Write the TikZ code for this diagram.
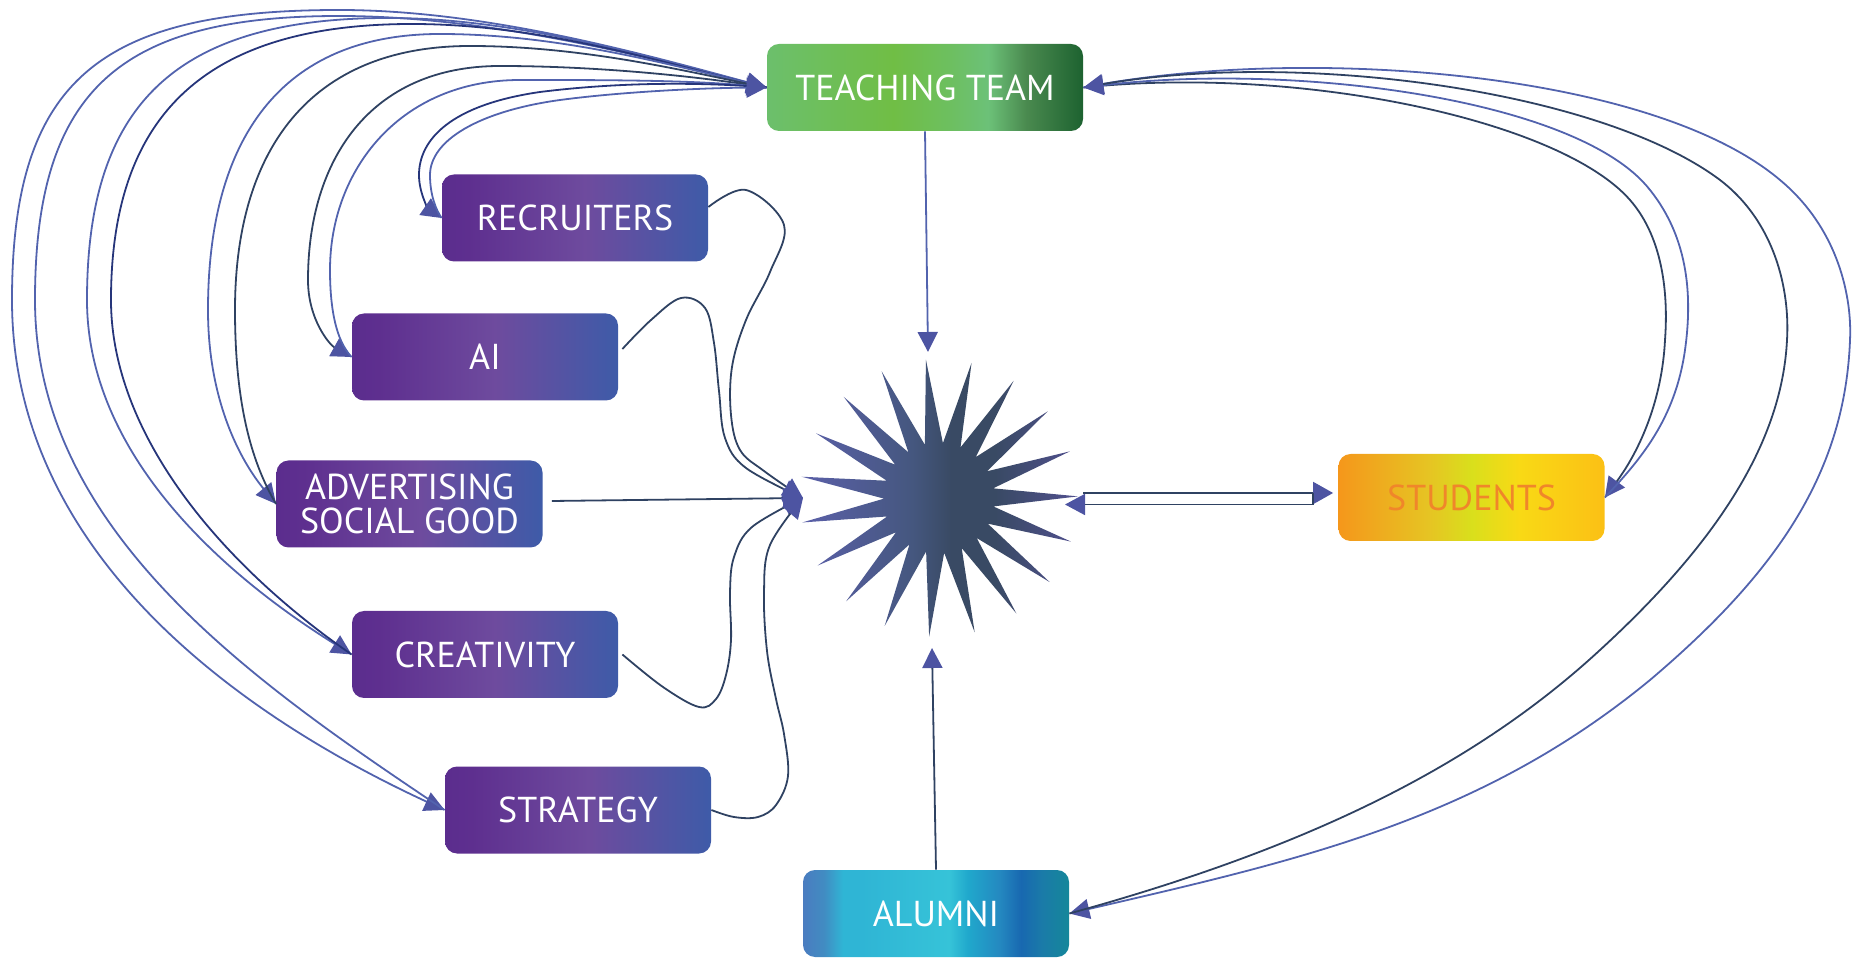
\documentclass[tikz,border=0pt]{standalone}
\usepackage{fontspec}
\setmainfont{PT Sans}
\usetikzlibrary{arrows.meta}
\definecolor{tt1}{HTML}{6CBF6C}
\definecolor{tt2}{HTML}{70BE45}
\definecolor{tt3}{HTML}{6DBF60}
\definecolor{tt4}{HTML}{6CC178}
\definecolor{tt5}{HTML}{4A8A4F}
\definecolor{tt6}{HTML}{1D6230}
\definecolor{pp1}{HTML}{5B2D8E}
\definecolor{pp2}{HTML}{5E2F8F}
\definecolor{pp3}{HTML}{6E4B9E}
\definecolor{pp4}{HTML}{3E5BA8}
\definecolor{st1}{HTML}{F5971B}
\definecolor{st2}{HTML}{E6C423}
\definecolor{st3}{HTML}{D9DF1C}
\definecolor{st4}{HTML}{F9D915}
\definecolor{st5}{HTML}{FBC015}
\definecolor{al1}{HTML}{4A7CC0}
\definecolor{al2}{HTML}{418CC2}
\definecolor{al3}{HTML}{2FB5D5}
\definecolor{al4}{HTML}{36C3D8}
\definecolor{al5}{HTML}{20A8CC}
\definecolor{al6}{HTML}{2488C0}
\definecolor{al7}{HTML}{1868B0}
\definecolor{al8}{HTML}{1A7BA8}
\definecolor{al9}{HTML}{15879A}
\definecolor{sr1}{HTML}{5B60A9}
\definecolor{sr2}{HTML}{45577F}
\definecolor{sr3}{HTML}{394A64}
\definecolor{sr4}{HTML}{51508F}
\definecolor{cdark}{HTML}{2F4262}
\definecolor{cblue}{HTML}{5263AE}
\definecolor{cnavy}{HTML}{26357A}
\definecolor{ctip}{HTML}{4D54A2}
\definecolor{stutext}{HTML}{F0862A}
\pgfdeclarehorizontalshading{ttsh}{100bp}{color(0bp)=(tt1); color(25bp)=(tt1); color(45bp)=(tt2); color(54bp)=(tt3); color(60bp)=(tt4); color(66bp)=(tt5); color(75bp)=(tt6); color(100bp)=(tt6)}
\pgfdeclarehorizontalshading{purpsh}{100bp}{color(0bp)=(pp1); color(25bp)=(pp1); color(30bp)=(pp2); color(52bp)=(pp3); color(75bp)=(pp4); color(100bp)=(pp4)}
\pgfdeclarehorizontalshading{stush}{100bp}{color(0bp)=(st1); color(25bp)=(st1); color(42bp)=(st2); color(50bp)=(st3); color(59bp)=(st4); color(75bp)=(st5); color(100bp)=(st5)}
\pgfdeclarehorizontalshading{alush}{100bp}{color(0bp)=(al1); color(25bp)=(al1); color(29bp)=(al2); color(32.5bp)=(al3); color(36bp)=(al3); color(52.5bp)=(al4); color(56bp)=(al5); color(62bp)=(al6); color(66bp)=(al7); color(70bp)=(al8); color(75bp)=(al9); color(100bp)=(al9)}
\pgfdeclarehorizontalshading{starsh}{100bp}{color(0bp)=(sr1); color(25bp)=(sr1); color(45bp)=(sr2); color(52bp)=(sr3); color(60bp)=(sr3); color(75bp)=(sr4); color(100bp)=(sr4)}
\tikzset{
  box/.style={rounded corners=6pt, minimum width=133pt, minimum height=43.5pt, inner sep=0pt, text=white, font=\fontsize{18}{17}\selectfont, align=center, shade},
  pbox/.style={box, shading=purpsh},
  conn/.style={line width=0.9pt},
  cb/.style={conn, draw=cblue},
  cd/.style={conn, draw=cdark},
  cn/.style={conn, draw=cnavy},
  tip/.style={-{Triangle[length=10pt,width=10pt,color=ctip]}},
  tipS/.style={{Triangle[length=10pt,width=10pt,color=ctip]}-},
  sm/.style={smooth, tension=0.6},
}
\begin{document}
\begin{tikzpicture}[x=0.5pt,y=-0.5pt]
\useasboundingbox (0,0) rectangle (1857,961);
% nodes
\node[box, shading=ttsh, minimum width=158pt] (TT) at (925,87.5) {TEACHING TEAM};
\node[pbox] (REC) at (575,218) {RECRUITERS};
\node[pbox] (AI) at (485,357) {AI};
\node[pbox] (ADV) at (409.5,504) {ADVERTISING\\SOCIAL GOOD};
\node[pbox] (CRE) at (485,654.5) {CREATIVITY};
\node[pbox] (STR) at (578,810) {STRATEGY};
\node[box, shading=stush, text=stutext] (STU) at (1471.5,497.5) {STUDENTS};
\node[box, shading=alush] (ALU) at (936,913.5) {ALUMNI};
% star
\begin{scope}[shift={(939,498)}]
\shade[shading=starsh] (-95.4:139) \foreach \k in {0,...,18}{ -- ({-95.4+18.947*\k}:139) -- ({-95.4+18.947*\k+9.4737}:55) } -- cycle;
\end{scope}
\coordinate (starN) at (928,352);
\coordinate (starS) at (932,648);
\coordinate (starW) at (803,498);
\coordinate (starE1) at (1083,493);
\coordinate (starE2) at (1065,504.5);
% left cluster: teaching team <-> boxes
\draw[cb, tip] (TT.west) .. controls (647,55) and (489,10) .. (339,10) .. controls (100,10) and (12,80) .. (12,300) .. controls (12,560) and (250,720) .. (STR.west);
\draw[cb, tipS] (TT.west) .. controls (647,57) and (489,16) .. (339,16) .. controls (120,16) and (35,90) .. (35,300) .. controls (35,530) and (250,680) .. (STR.west);
\draw[cb, tip] (TT.west) .. controls (650,58) and (520,18) .. (388,18) .. controls (170,18) and (87,110) .. (87,300) .. controls (87,440) and (200,560) .. (CRE.west);
\draw[cn, tipS] (TT.west) .. controls (660,62) and (540,24) .. (412,24) .. controls (200,24) and (111,120) .. (111,300) .. controls (111,430) and (215,560) .. (CRE.west);
\draw[cb, tip] (TT.west) .. controls (670,65) and (560,34) .. (440,34) .. controls (280,34) and (208,140) .. (208,310) .. controls (208,400) and (240,460) .. (ADV.west);
\draw[cd, tipS] (TT.west) .. controls (680,70) and (580,46) .. (470,46) .. controls (310,46) and (235,150) .. (235,310) .. controls (235,400) and (250,460) .. (ADV.west);
\draw[cd, tip] (TT.west) .. controls (690,75) and (590,66) .. (500,66) .. controls (370,66) and (308,160) .. (308,280) .. controls (308,320) and (330,345) .. (AI.west);
\draw[cb, tipS] (TT.west) .. controls (690,80) and (600,80) .. (520,80) .. controls (400,80) and (330,170) .. (330,270) .. controls (330,320) and (340,345) .. (AI.west);
\draw[cn, tip] (TT.west) .. controls (700,82) and (620,82) .. (540,92) .. controls (450,105) and (419,140) .. (419,175) .. controls (419,195) and (430,210) .. (REC.west);
\draw[cb, tipS] (TT.west) .. controls (700,88) and (620,92) .. (560,100) .. controls (480,111) and (430,140) .. (430,175) .. controls (430,195) and (436,210) .. (REC.west);
% right cluster
\draw[cd, tip] (TT.east) .. controls (1300,65) and (1560,120) .. (1630,200) .. controls (1665,240) and (1668,300) .. (1665,340) .. controls (1662,400) and (1640,450) .. (STU.east);
\draw[cb, tipS] (TT.east) .. controls (1300,62) and (1580,100) .. (1650,190) .. controls (1690,240) and (1692,300) .. (1685,350) .. controls (1675,420) and (1640,460) .. (STU.east);
\draw[cb, tip] (TT.east) .. controls (1300,45) and (1650,70) .. (1780,180) .. controls (1840,230) and (1852,300) .. (1850,340) .. controls (1845,470) and (1780,570) .. (1650,680) .. controls (1480,820) and (1300,860) .. (ALU.east);
\draw[cd, tipS] (TT.east) .. controls (1300,50) and (1600,90) .. (1720,180) .. controls (1775,222) and (1790,290) .. (1787,340) .. controls (1782,440) and (1720,540) .. (1600,650) .. controls (1470,770) and (1300,850) .. (ALU.east);
% boxes -> star
\draw[cd, tip] plot[sm] coordinates {([yshift=5.5pt]REC.east) (746,190) (784,225) (770,272) (746,320) (732,367) (731,415) (740,450) (764,471) (starW)};
\draw[cd, tip] plot[sm] coordinates {([xshift=2pt,yshift=4pt]AI.east) (651,320) (681,298) (705,308) (714,343) (719,391) (725,438) (746,468) (starW)};
\draw[cd, tip] ([xshift=4.5pt,yshift=1.5pt]ADV.east) -- (starW);
\draw[cd, tip] plot[sm] coordinates {([xshift=2pt]CRE.east) (663,687) (699,707) (716,699) (726,675) (731,640) (730,592) (734,557) (752,527) (starW)};
\draw[cd, tip] plot[sm] coordinates {(STR.east) (734,817) (758,817) (776,805) (788,776) (784,734) (776,699) (767,651) (764,592) (770,545) (starW)};
% vertical connectors
\draw[conn, draw=cblue, tip] (TT.south) -- (starN);
\draw[conn, draw=cdark, tip] (ALU.north) -- (starS);
% students double arrow
\draw[cd, -{Triangle[length=10pt,width=11pt,color=ctip]}, shorten >=2.5pt] (starE1) -- (STU.west |- starE1);
\draw[cd, -{Triangle[length=10pt,width=10.5pt,color=ctip]}] (1313,493) -- (1313,504.5) -- (starE2);
\end{tikzpicture}
\end{document}
